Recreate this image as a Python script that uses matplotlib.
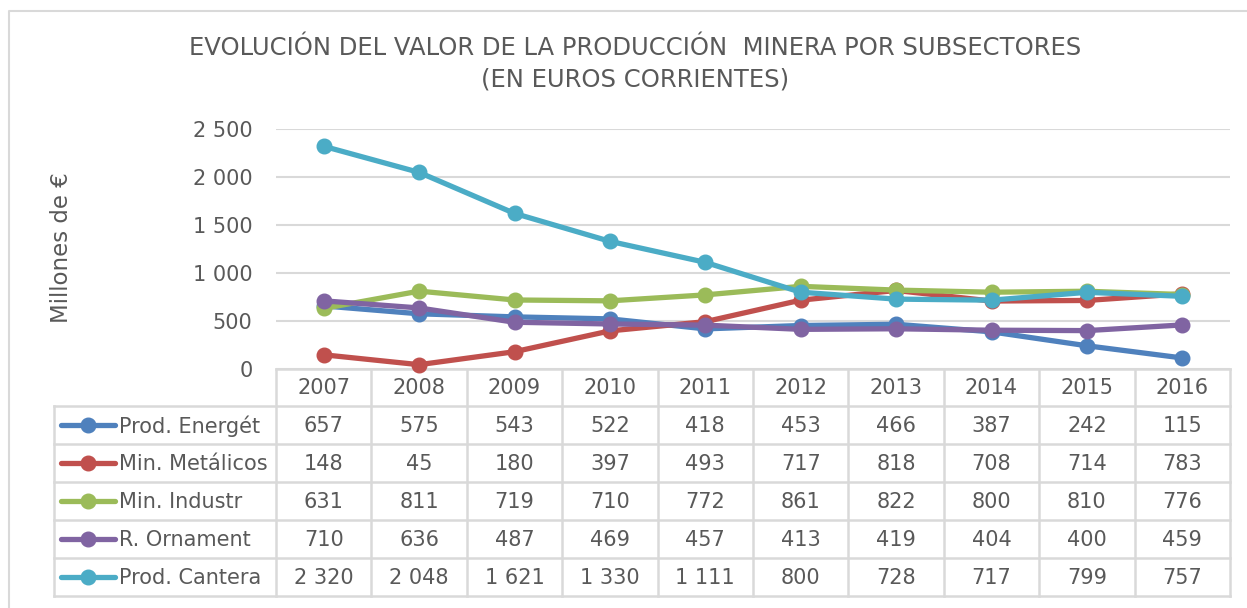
import matplotlib
matplotlib.use("Agg")
import matplotlib.pyplot as plt

years = ["2007", "2008", "2009", "2010", "2011", "2012", "2013", "2014", "2015", "2016"]
series_names = ["Prod. Energét", "Min. Metálicos", "Min. Industr", "R. Ornament", "Prod. Cantera"]
prod_energet = [657, 575, 543, 522, 418, 453, 466, 387, 242, 115]
min_metalicos = [148, 45, 180, 397, 493, 717, 818, 708, 714, 783]
min_industr = [631, 811, 719, 710, 772, 861, 822, 800, 810, 776]
r_ornament = [710, 636, 487, 469, 457, 413, 419, 404, 400, 459]
prod_cantera = [2320, 2048, 1621, 1330, 1111, 800, 728, 717, 799, 757]
series_values = [prod_energet, min_metalicos, min_industr, r_ornament, prod_cantera]
colors = ["#4F81BD", "#C0504D", "#9BBB59", "#8064A2", "#4BACC6"]
yticks = [0, 500, 1000, 1500, 2000, 2500]

TXT = "#595959"
GRID = "#D9D9D9"
FS = 15
W, H = 1247, 608

def fmt(v):
    return f"{v:,}".replace(",", " ")

fig = plt.figure(figsize=(W / 100, H / 100), dpi=100)
fig.patch.set_facecolor("white")

# background overlay axes in pixel coordinates
bg = fig.add_axes([0, 0, 1, 1])
bg.set_xlim(0, W)
bg.set_ylim(H, 0)
bg.axis("off")

# outer border
bg.plot([9, 9, 1252], [615, 11, 11], color=GRID, lw=1.5)

# plot area
x0, x1 = 276, 1230
ytop, ybot = 129, 369
ax = fig.add_axes([x0 / W, 1 - ybot / H, (x1 - x0) / W, (ybot - ytop) / H])
ax.set_xlim(-0.5, len(years) - 0.5)
ax.set_ylim(0, 2500)
ax.patch.set_alpha(0)
for s in ax.spines.values():
    s.set_visible(False)
ax.set_xticks([])
ax.set_yticks(yticks)
ax.set_yticklabels([fmt(v) for v in yticks], fontsize=FS, color=TXT)
ax.tick_params(axis="y", length=0, pad=17)
ax.grid(axis="y", color=GRID, lw=1.5)
ax.set_axisbelow(True)
for vals, c in zip(series_values, colors):
    ax.plot(range(len(years)), vals, color=c, lw=3.8, marker="o", ms=10.5,
            solid_capstyle="round", clip_on=False, zorder=3)

# titles
bg.text(635, 48, "EVOLUCIÓN DEL VALOR DE LA PRODUCCIÓN  MINERA POR SUBSECTORES",
        ha="center", va="center", fontsize=17.5, color=TXT)
bg.text(635, 80, "(EN EUROS CORRIENTES)", ha="center", va="center", fontsize=17.5, color=TXT)
bg.text(62, 248, "Millones de €", rotation=90, ha="center", va="center", fontsize=16.5, color=TXT)

# data table
colw = (x1 - x0) / len(years)
row_top = 406
rowh = 38
nrows = len(series_names)
lx0 = 54
tlw = 1.8
bg.plot([x0, x1], [ybot, ybot], color=GRID, lw=tlw)
for r in range(nrows + 1):
    y = row_top + r * rowh
    bg.plot([lx0, x1], [y, y], color=GRID, lw=tlw)
bg.plot([lx0, lx0], [row_top, row_top + nrows * rowh], color=GRID, lw=tlw)
for c in range(len(years) + 1):
    x = x0 + c * colw
    bg.plot([x, x], [ybot, row_top + nrows * rowh], color=GRID, lw=tlw)
for c, yr in enumerate(years):
    bg.text(x0 + (c + 0.5) * colw, (ybot + row_top) / 2 + 1, yr, ha="center", va="center",
            fontsize=FS, color=TXT)
for r, (name, vals, col) in enumerate(zip(series_names, series_values, colors)):
    yc = row_top + (r + 0.5) * rowh
    bg.plot([61, 115], [yc, yc], color=col, lw=3.8, solid_capstyle="round")
    bg.plot([88], [yc], marker="o", ms=10.5, color=col)
    bg.text(119, yc + 1, name, ha="left", va="center", fontsize=15, color=TXT)
    for c, v in enumerate(vals):
        bg.text(x0 + (c + 0.5) * colw, yc + 1, fmt(v), ha="center", va="center",
                fontsize=FS, color=TXT)

fig.savefig("out.png", dpi=100)
